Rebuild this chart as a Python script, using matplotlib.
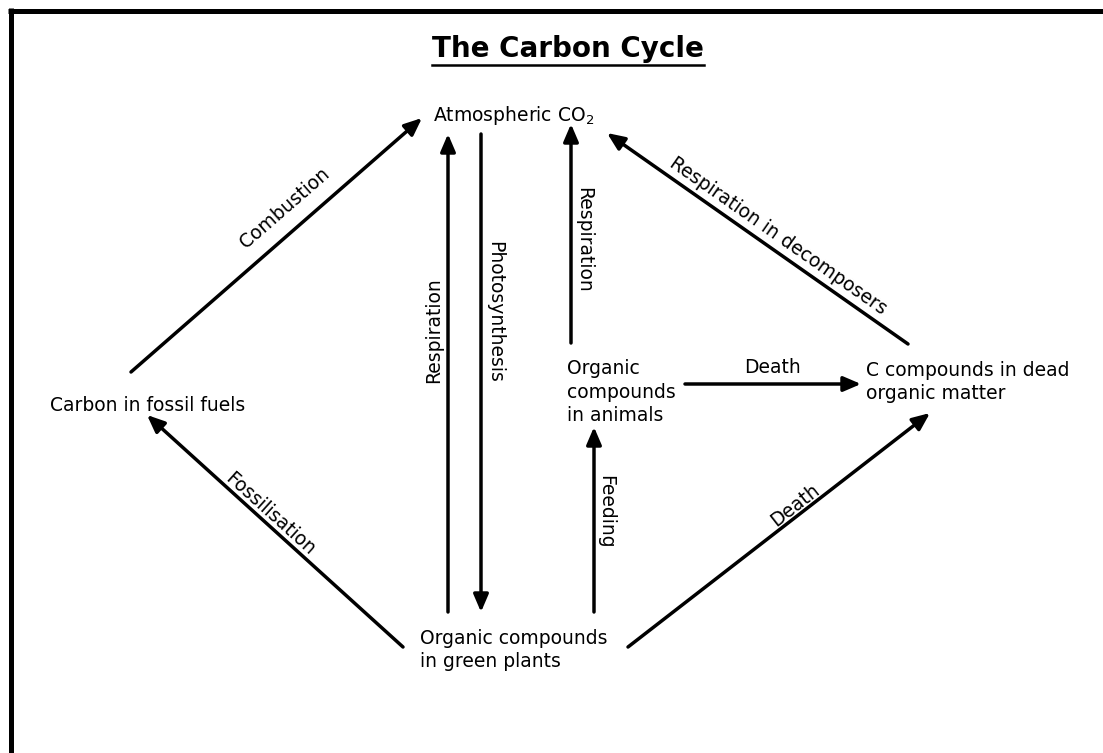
import matplotlib
matplotlib.use("Agg")
import matplotlib.pyplot as plt

# boxes of the cycle (text) and where they sit, in pixels
node_labels = ["Atmospheric CO$_2$",
               "Carbon in fossil fuels",
               "Organic compounds\nin green plants",
               "Organic\ncompounds\nin animals",
               "C compounds in dead\norganic matter"]
node_xy = [(433, 115), (50, 405), (420, 650), (567, 392), (866, 382)]

# processes: label, start, end, label position, label angle
process_labels = ["Combustion", "Respiration", "Photosynthesis", "Respiration",
                  "Respiration in decomposers", "Fossilisation", "Feeding",
                  "Death", "Death"]
arrow_from = [(131, 372), (448, 612), (481, 134), (571, 343),
              (908, 344), (403, 647), (594, 612), (628, 647), (685, 384)]
arrow_to = [(422, 118), (448, 134), (481, 612), (571, 124),
            (607, 133), (147, 415), (594, 427), (930, 413), (861, 384)]
label_xy = [(285, 208), (434, 330), (495, 312), (584, 240),
            (778, 236), (270, 514), (606, 512), (795, 505), (772, 367)]
label_rot = [41, 90, 270, 270, -35, -42, 270, 38, 0]

fig = plt.figure(figsize=(11.03, 7.53), dpi=100)
ax = fig.add_axes([0, 0, 1, 1])
ax.set_xlim(0, 1103)
ax.set_ylim(753, 0)
ax.axis("off")

# frame (left and top only, rest is cut off)
ax.plot([10.5, 10.5], [8, 753], color="black", lw=3.6, solid_capstyle="butt")
ax.plot([8, 1103], [10.5, 10.5], color="black", lw=3.6, solid_capstyle="butt")

title = ax.text(568, 49, "The Carbon Cycle", fontsize=20, fontweight="bold",
                ha="center", va="center")

for lab, (x, y) in zip(node_labels, node_xy):
    ax.text(x, y, lab, fontsize=13.5, ha="left", va="center", linespacing=1.3)

for lab, a, b, (lx, ly), rot in zip(process_labels, arrow_from, arrow_to,
                                    label_xy, label_rot):
    ax.annotate("", xy=b, xytext=a,
                arrowprops=dict(arrowstyle="-|>,head_length=0.7,head_width=0.3",
                                mutation_scale=15, lw=2.5, color="black",
                                shrinkA=0, shrinkB=0))
    ax.text(lx, ly, lab, fontsize=13.5, ha="center", va="center",
            rotation=rot, rotation_mode="anchor")

# underline the title
fig.canvas.draw()
bb = title.get_window_extent().transformed(ax.transData.inverted())
ax.plot([bb.x0, bb.x1], [bb.y0 + 2, bb.y0 + 2], color="black", lw=1.8)

fig.savefig("out.png", dpi=100)
